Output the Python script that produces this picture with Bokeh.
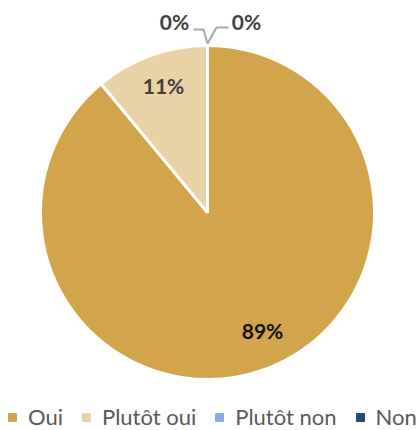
import math
from bokeh.plotting import figure
from bokeh.models import Range1d, Legend, LegendItem, ColumnDataSource
from bokeh.core.properties import value
from bokeh.embed import file_html
from bokeh.resources import INLINE

categories = ["Oui", "Plutôt oui", "Plutôt non", "Non"]
values = [89, 11, 0, 0]
labels = ["89%", "11%", "0%", "0%"]
colors = ["#D2A54C", "#E8D2A6", "#8FAADC", "#1F4E79"]
label_colors = ["#111111", "#404040", "#404040", "#404040"]

W, H = 419, 430
def sx(x):  # screen px -> data
    return x
def sy(y):
    return H - y

p = figure(width=W, height=H, output_backend="svg", toolbar_location=None,
           x_range=Range1d(0, W), y_range=Range1d(0, H), min_border=0)
p.axis.visible = False
p.grid.visible = False
p.outline_line_color = None
p.background_fill_color = "white"

cx, cy, r = sx(207), sy(212), 167
total = sum(values)
starts, ends, cols, cats = [], [], [], []
acc = 0.0
for v, c, cat in zip(values, colors, categories):
    a0 = math.pi / 2 - 2 * math.pi * acc / total
    acc += v
    a1 = math.pi / 2 - 2 * math.pi * acc / total
    if v > 0:
        starts.append(a0)
        ends.append(a1)
        cols.append(c)
        cats.append(cat)

src = ColumnDataSource(dict(cat=cats, start=starts, end=ends, color=cols))
p.wedge(x=cx, y=cy, radius=r, start_angle="end", end_angle="start",
        fill_color="color", line_color="white", line_width=3, source=src)

# data labels (layout positions)
label_pos = [(262, 330), (163, 85), (174, 21), (246, 21)]
p.text(x=[sx(a) for a, b in label_pos], y=[sy(b) for a, b in label_pos], text=labels,
       text_font=value("Lato"), text_font_style="bold", text_font_size="21px",
       text_color=label_colors, text_align="center", text_baseline="middle")

# leader lines for 0% labels
p.line(x=[sx(193), sx(203), sx(207), sx(216), sx(228)],
       y=[sy(29), sy(29), sy(43), sy(27), sy(27)],
       line_color="#A6A6A6", line_width=2)

# legend
proxies = []
for c in colors:
    proxies.append(p.scatter(x=[-1000], y=[-1000], marker="square", size=8, fill_color=c, line_color=c))
legend = Legend(items=[LegendItem(label=cat, renderers=[rr]) for cat, rr in zip(categories, proxies)],
                orientation="horizontal", location=(2, 0), border_line_alpha=0,
                background_fill_alpha=0, label_text_font="Lato", label_text_font_size="22px",
                label_text_color="#595959", glyph_width=20, glyph_height=20, spacing=13,
                label_standoff=6, padding=0, margin=0)
p.add_layout(legend, "center")

open("out.html", "w").write(file_html(p, INLINE))
